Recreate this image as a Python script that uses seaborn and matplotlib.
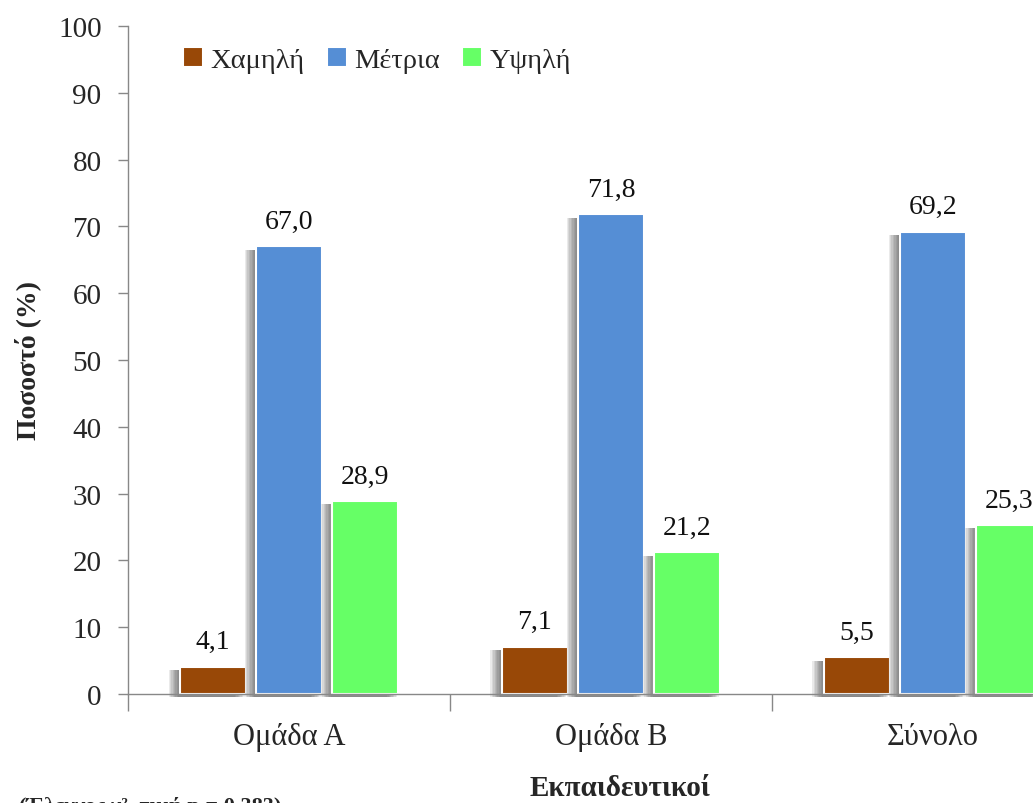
import matplotlib
matplotlib.use("Agg")
import matplotlib.pyplot as plt
import matplotlib.patheffects as pe
import pandas as pd
import seaborn as sns

# Survey results: level per group of teachers (%)
groups = ["Ομάδα Α", "Ομάδα Β", "Σύνολο"]
levels = ["Χαμηλή", "Μέτρια", "Υψηλή"]
low = [4.1, 7.1, 5.5]
medium = [67.0, 71.8, 69.2]
high = [28.9, 21.2, 25.3]
y_ticks = [0, 10, 20, 30, 40, 50, 60, 70, 80, 90, 100]

colors = ["#984807", "#558ED5", "#66FF66"]

df = pd.DataFrame({
    "group": groups * 3,
    "level": [levels[0]] * 3 + [levels[1]] * 3 + [levels[2]] * 3,
    "value": low + medium + high,
})

sns.set_theme(style="white")
plt.rcParams["font.family"] = ["Liberation Serif", "DejaVu Serif"]

fig = plt.figure(figsize=(10.33, 8.04), dpi=100)
ax = fig.add_axes([0.1239, 0.1356, 0.935, 0.8308])

sns.barplot(data=df, x="group", y="value", hue="level", order=groups,
            hue_order=levels, palette=colors, width=0.71, gap=0.13,
            edgecolor="white", linewidth=1.5, saturation=1, ax=ax,
            errorbar=None)

# soft, blurred-looking drop shadow to the left of each bar
shadow = [pe.SimplePatchShadow(offset=(-dx, -2.5), shadow_rgbFace="0.25", alpha=0.11)
          for dx in (1, 2, 3, 4, 5, 6, 7, 8)]
for cont in ax.containers:
    for bar in cont:
        bar.set_path_effects(shadow + [pe.Normal()])
        bar.set_clip_on(False)
    ax.bar_label(cont, fmt=lambda v: f"{v:.1f}".replace(".", ","),
                 padding=9, fontsize=20, color="#111111")

ax.set_xlim(-0.5, 2.5)
ax.set_ylim(0, 100)
ax.set_yticks(y_ticks)
ax.set_yticklabels([str(t) for t in y_ticks], fontsize=21)
ax.tick_params(axis="y", direction="out", length=7, width=1, color="#888888",
               left=True, pad=12)

# category separators as minor ticks
ax.set_xticks([-0.5, 0.5, 1.5, 2.5], minor=True)
ax.tick_params(axis="x", which="minor", direction="out", length=12, width=1,
               color="#888888", bottom=True)
ax.tick_params(axis="x", which="major", length=0, pad=20, labelsize=22)

for s in ["top", "right"]:
    ax.spines[s].set_visible(False)
for s in ["left", "bottom"]:
    ax.spines[s].set_color("#888888")
    ax.spines[s].set_linewidth(1)

ax.set_ylabel("Ποσοστό (%)", fontsize=20, fontweight="bold", labelpad=12)
ax.set_xlabel("")
fig.text(0.60, 0.003, "Εκπαιδευτικοί", ha="center", va="bottom",
         fontsize=21, fontweight="bold")
fig.text(0.018, -0.016, "(Έλεγχος χ², τιμή p = 0,383)", ha="left",
         va="bottom", fontsize=16, fontweight="bold")

leg = ax.legend(loc="upper left", bbox_to_anchor=(0.045, 0.985), ncol=3,
                frameon=False, fontsize=20.5, handlelength=0.7,
                handleheight=0.7, handletextpad=0.25, columnspacing=0.8,
                borderaxespad=0)
ax.grid(False)

fig.savefig("out.png", dpi=100)
